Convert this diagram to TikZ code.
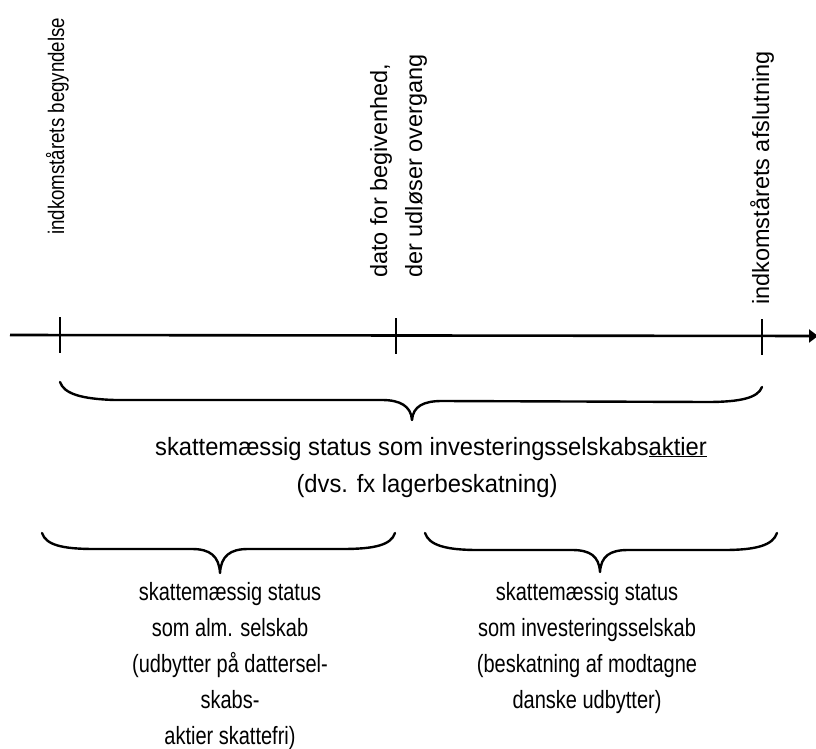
\documentclass[tikz,border=0pt]{standalone}
\usepackage{graphicx}
\usepackage{fontspec}
\setmainfont{Liberation Sans}
\newfontfamily\midfont{Liberation Sans}[FakeStretch=0.95]
\newfontfamily\narrowfont{Liberation Sans}[FakeStretch=0.8]
\usetikzlibrary{arrows.meta,calc}
\begin{document}
\begin{tikzpicture}[x=1pt,y=-1pt,
  lbl/.style={inner sep=0pt, font=\fontsize{23.5}{35}\selectfont},
  vlbl/.style={lbl, rotate=90, anchor=base west},
  mtext/.style={inner sep=0pt, font=\midfont\fontsize{25}{35}\selectfont, anchor=base},
  btext/.style={inner sep=0pt, font=\narrowfont\fontsize{25}{36}\selectfont, align=center, anchor=north},
  axisline/.style={line width=2.6pt, -{Triangle[length=9pt,width=13pt]}},
  tickline/.style={line width=2pt},
  bracepath/.style={line width=2.4pt, line cap=round, line join=round}]
\useasboundingbox[fill=white] (0,0) rectangle (816,749);

% axis
\coordinate (A0) at (10,335);
\coordinate (A1) at (818,336);
\draw[axisline] (A0) -- (A1);
\coordinate (T1) at (60,335);
\coordinate (T2) at (396,336);
\coordinate (T3) at (762,337);
\foreach \t in {T1,T2,T3}
  \draw[tickline] ($(\t)+(0,-18)$) -- ($(\t)+(0,18)$);

% vertical labels
\node[vlbl, font=\fontsize{22.5}{25}\selectfont] (L1) at (64,235) {\resizebox{217pt}{\height}{indkomstårets begyndelse}};
\node[vlbl] (L2a) at (387,278) {dato for begivenhed,};
\node[vlbl] (L2b) at (422,278) {der udløser overgang};
\node[vlbl] (L3) at (769,305) {indkomstårets afslutning};

% big brace
\draw[bracepath] (60,382) .. controls (64,394) and (82,399) .. (115,400) -- (382,400)
  .. controls (400,400) and (411,406) .. (412,420)
  .. controls (413,406) and (424,401) .. (442,401) -- (707,402)
  .. controls (740,402) and (758,398) .. (762,387);

\node[mtext] (M1) at (431,455) {skattemæssig status som investeringsselskabs\underline{aktier}};
\node[mtext] (M2) at (427,492) {(dvs. fx lagerbeskatning)};

% lower braces
\draw[bracepath] (42,533) .. controls (46,545) and (62,549) .. (95,549) -- (192,549)
  .. controls (210,549) and (219,556) .. (220,573)
  .. controls (221,556) and (230,549) .. (248,549) -- (342,549)
  .. controls (375,549) and (391,545) .. (395,533);
\draw[bracepath] (425,533) .. controls (429,545) and (445,550) .. (478,550) -- (572,550)
  .. controls (590,550) and (599,556) .. (600,572)
  .. controls (601,556) and (610,550) .. (628,550) -- (724,550)
  .. controls (757,550) and (773,545) .. (777,533);

\node[btext] (B1) at (230,582) {skattemæssig status\\som alm. selskab\\(udbytter på dattersel-\\skabs-\\aktier skattefri)};
\node[btext] (B2) at (587,582) {skattemæssig status\\som investeringsselskab\\(beskatning af modtagne\\danske udbytter)};
\end{tikzpicture}
\end{document}
